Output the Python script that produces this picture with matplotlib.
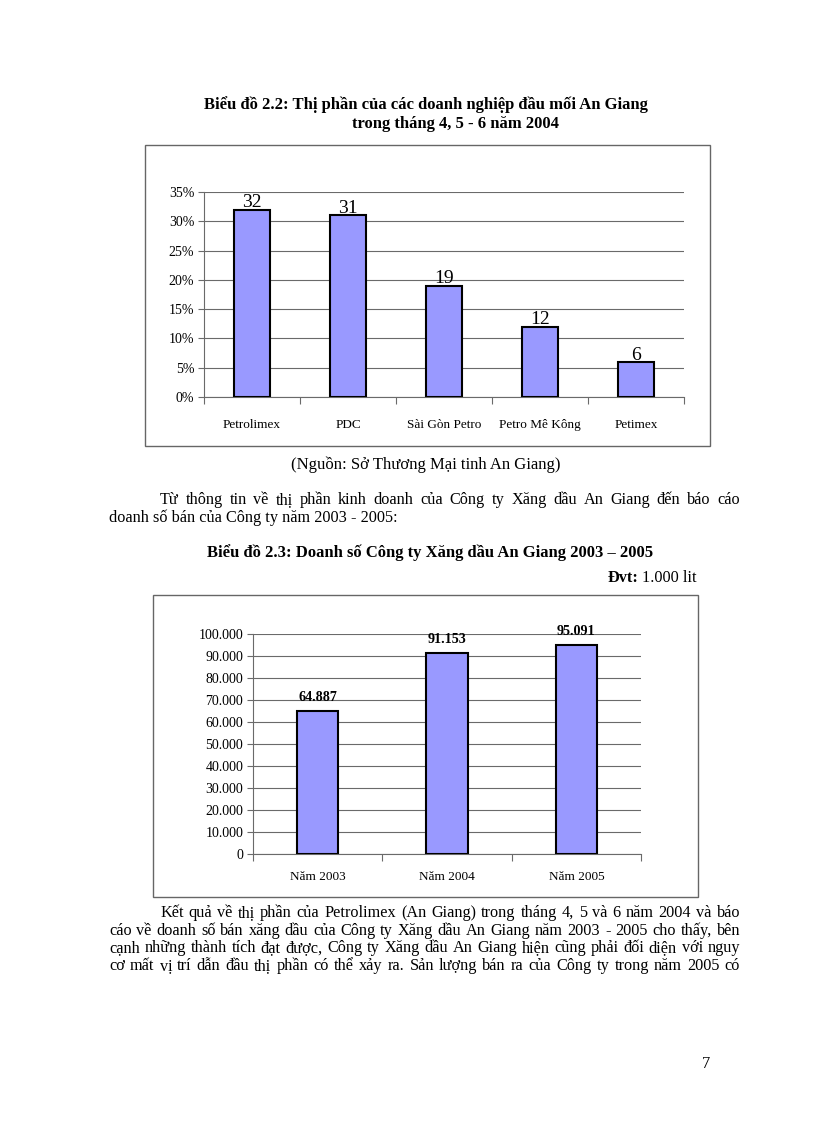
import matplotlib
matplotlib.use('Agg')
import matplotlib.pyplot as plt
from matplotlib.patches import Rectangle

# data
companies = ['Petrolimex', 'PDC', 'Sài Gòn Petro', 'Petro Mê Kông', 'Petimex']
share = [32, 31, 19, 12, 6]
share_ticks = [0, 5, 10, 15, 20, 25, 30, 35]

years = ['Năm 2003', 'Năm 2004', 'Năm 2005']
sales = [64887, 91153, 95091]
sales_ticks = list(range(0, 100001, 10000))

title1 = 'Biểu đồ 2.2: Thị phần của các doanh nghiệp đầu mối An Giang'
title1b = 'trong tháng 4, 5 - 6 năm 2004'
source = '(Nguồn: Sở Thương Mại tinh An Giang)'
para1 = ['Từ thông tin về thị phần kinh doanh của Công ty Xăng dầu An Giang đến báo cáo',
         'doanh số bán của Công ty năm 2003 - 2005:']
title2 = 'Biểu đồ 2.3: Doanh số Công ty Xăng dầu An Giang 2003 – 2005'
para2 = ['Kết quả về thị phần của Petrolimex (An Giang) trong tháng 4, 5 và 6 năm 2004 và báo',
         'cáo về doanh số bán xăng dầu của Công ty Xăng dầu An Giang năm 2003 - 2005 cho thấy, bên',
         'cạnh những thành tích đạt được, Công ty Xăng dầu An Giang hiện cũng phải đối diện với nguy',
         'cơ mất vị trí dẫn đầu thị phần có thể xảy ra. Sản lượng bán ra của Công ty trong năm 2005 có']

W, H = 816, 1123
plt.rcParams['font.family'] = ['Liberation Serif', 'DejaVu Serif']
fig = plt.figure(figsize=(W / 100, H / 100), dpi=100)
fig.patch.set_facecolor('white')

def fx(x):
    return x / W

def fy(y):
    return 1 - y / H

BODY = 11.7
HEAD = 12
BAR = '#9999ff'
GRID = '#6a6a6a'

def justify(line, x0, x1, y, **kw):
    words = line.split(' ')
    texts = [fig.text(0, fy(y), w, va='baseline', fontsize=BODY, **kw) for w in words]
    r = fig.canvas.get_renderer()
    widths = [t.get_window_extent(r).width for t in texts]
    gap = ((x1 - x0) - sum(widths)) / (len(words) - 1)
    x = x0
    for t, w in zip(texts, widths):
        t.set_x(fx(x))
        x += w + gap

def box(x0, y0, x1, y1):
    fig.add_artist(Rectangle((fx(x0), fy(y1)), (x1 - x0) / W, (y1 - y0) / H,
                             transform=fig.transFigure, fill=False,
                             edgecolor='#666666', lw=1.0))

def axes_px(x0, y0, x1, y1):
    return fig.add_axes([fx(x0), fy(y1), (x1 - x0) / W, (y1 - y0) / H])

def style(a, pad):
    a.tick_params(axis='x', which='major', length=0, pad=pad)
    a.tick_params(axis='x', which='minor', length=5, width=0.8, direction='out', color=GRID)
    a.tick_params(axis='y', length=4, width=0.8, pad=3, color=GRID)
    a.grid(axis='y', color=GRID, lw=0.8, zorder=0)
    for s in ['top', 'right']:
        a.spines[s].set_visible(False)
    a.spines['left'].set_color(GRID)
    a.spines['bottom'].set_color(GRID)

# ---- titles / text ----
fig.text(fx(426), fy(109), title1, ha='center', va='baseline', fontsize=HEAD, fontweight='bold')
fig.text(fx(455), fy(128), title1b, ha='center', va='baseline', fontsize=HEAD, fontweight='bold')

# ---- chart 1 ----
box(145, 145, 710, 446)
ax = axes_px(204, 192, 684, 397)
ax.bar(range(len(companies)), share, width=0.38, color=BAR, edgecolor='black', lw=1.5, zorder=3)
for i, v in enumerate(share):
    ax.text(i, v - 0.3, str(v), ha='center', va='bottom', fontsize=14, zorder=4)
ax.set_xlim(-0.5, len(companies) - 0.5)
ax.set_ylim(0, 35)
ax.set_yticks(share_ticks)
ax.set_yticklabels([f'{v}%' for v in share_ticks], fontsize=10)
ax.set_xticks(range(len(companies)))
ax.set_xticklabels(companies, fontsize=9.5)
ax.set_xticks([i - 0.5 for i in range(len(companies) + 1)], minor=True)
style(ax, 16)

fig.text(fx(426), fy(469), source, ha='center', va='baseline', fontsize=HEAD)
justify(para1[0], 160, 740, 504)
fig.text(fx(109), fy(522), para1[1], ha='left', va='baseline', fontsize=BODY)
fig.text(fx(430), fy(557), title2, ha='center', va='baseline', fontsize=HEAD, fontweight='bold')

unit = fig.text(fx(697), fy(582), '1.000 lit', ha='right', va='baseline', fontsize=BODY)
ux0 = unit.get_window_extent(fig.canvas.get_renderer()).x0
fig.text(fx(ux0 - 4), fy(582), 'Đvt:', ha='right', va='baseline', fontsize=BODY, fontweight='bold')

# ---- chart 2 ----
box(153, 595, 698, 897)
ax2 = axes_px(253, 634, 641, 854)
ax2.bar(range(len(years)), sales, width=0.32, color=BAR, edgecolor='black', lw=1.5, zorder=3)
for i, v in enumerate(sales):
    ax2.text(i, v + 3300, f'{v:,}'.replace(',', '.'), ha='center', va='bottom',
             fontsize=10.2, fontweight='bold', zorder=4)
ax2.set_xlim(-0.5, len(years) - 0.5)
ax2.set_ylim(0, 100000)
ax2.set_yticks(sales_ticks)
ax2.set_yticklabels([f'{v:,}'.replace(',', '.') for v in sales_ticks], fontsize=10)
ax2.set_xticks(range(len(years)))
ax2.set_xticklabels(years, fontsize=9.5)
ax2.set_xticks([i - 0.5 for i in range(len(years) + 1)], minor=True)
style(ax2, 12)

# ---- paragraph 2 ----
justify(para2[0], 160, 740, 917)
for k, line in enumerate(para2[1:]):
    justify(line, 109, 740, 935 + 17.5 * k)

fig.text(fx(706), fy(1068), '7', ha='center', va='baseline', fontsize=BODY)

fig.savefig('out.png', dpi=100, facecolor='white')
